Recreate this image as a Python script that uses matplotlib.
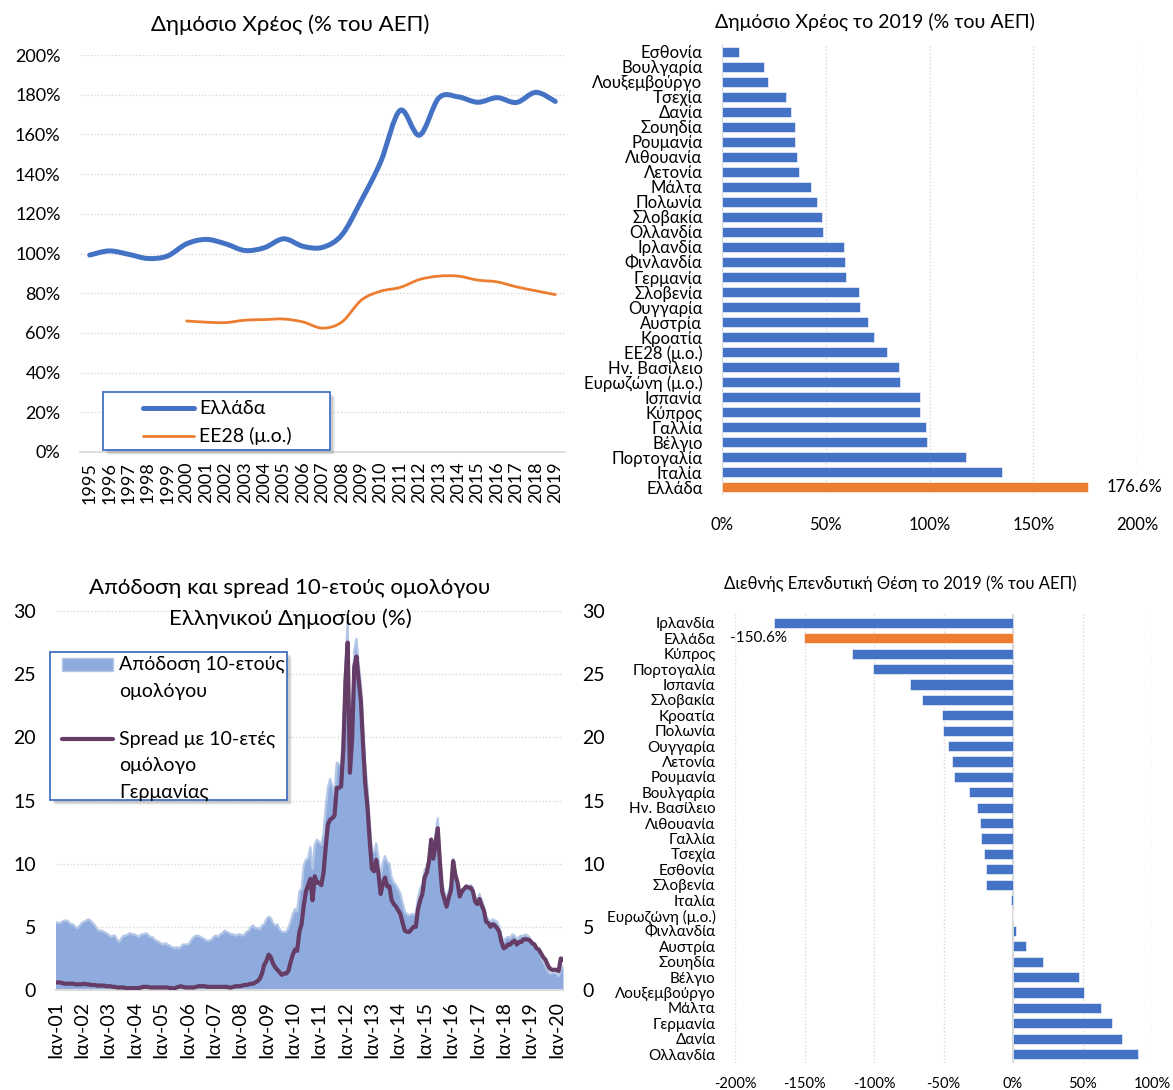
import numpy as np
import matplotlib
matplotlib.use("Agg")
import matplotlib.pyplot as plt
from matplotlib.path import Path
from matplotlib.patches import PathPatch, Rectangle
from matplotlib.lines import Line2D
from matplotlib.ticker import FuncFormatter

plt.rcParams['font.family'] = ['Lato', 'DejaVu Sans']

W, H = 1173, 1090
BLUE = "#4472C4"
ORANGE = "#ED7D31"
GRID = "#D9D9D9"
AREA = "#8FAADC"
AREA_EDGE = "#B4C7E7"
PURPLE = "#643C66"

# ---- top-left: public debt, % of GDP
years = list(range(1995, 2020))
debt_greece = [99.2, 101.3, 99.6, 97.5, 98.7, 104.9, 107.1, 104.9, 101.5, 102.9,
               107.4, 103.6, 103.1, 109.4, 126.7, 146.2, 172.1, 159.6, 178.4, 178.9,
               176.2, 178.5, 176.1, 181.2, 176.6]
ee28_years = list(range(2000, 2020))
debt_ee28 = [66.0, 65.4, 65.2, 66.4, 66.7, 67.0, 65.5, 62.4, 65.5, 76.5,
             81.0, 82.9, 86.9, 88.6, 88.6, 86.6, 85.7, 83.2, 81.2, 79.3]

# ---- top-right: public debt 2019
debt_countries = ['Εσθονία', 'Βουλγαρία', 'Λουξεμβούργο', 'Τσεχία', 'Δανία', 'Σουηδία',
                  'Ρουμανία', 'Λιθουανία', 'Λετονία', 'Μάλτα', 'Πολωνία', 'Σλοβακία',
                  'Ολλανδία', 'Ιρλανδία', 'Φινλανδία', 'Γερμανία', 'Σλοβενία', 'Ουγγαρία',
                  'Αυστρία', 'Κροατία', 'ΕΕ28 (μ.ο.)', 'Ην. Βασίλειο', 'Ευρωζώνη (μ.ο.)',
                  'Ισπανία', 'Κύπρος', 'Γαλλία', 'Βέλγιο', 'Πορτογαλία', 'Ιταλία', 'Ελλάδα']
debt_2019 = [8.4, 20.4, 22.1, 30.8, 33.2, 35.1, 35.2, 36.3, 36.9, 43.1, 46.0, 48.0,
             48.6, 58.8, 59.4, 59.6, 66.1, 66.3, 70.4, 73.2, 79.3, 85.4, 86.0,
             95.5, 95.5, 98.1, 98.6, 117.7, 134.8, 176.6]

# ---- bottom-left: 10y bond yield and spread vs Germany, monthly Jan-2001 .. Apr-2020
yield_10y = [
    5.4, 5.3, 5.3, 5.4, 5.5, 5.5, 5.4, 5.2, 5.2, 5.0, 4.9, 5.1,   # 2001
    5.3, 5.4, 5.5, 5.6, 5.5, 5.3, 5.1, 4.8, 4.7, 4.7, 4.6, 4.5,   # 2002
    4.4, 4.2, 4.3, 4.3, 4.0, 3.8, 4.1, 4.3, 4.3, 4.4, 4.5, 4.4,   # 2003
    4.4, 4.3, 4.2, 4.4, 4.4, 4.5, 4.4, 4.2, 4.2, 4.0, 3.9, 3.8,   # 2004
    3.7, 3.6, 3.7, 3.6, 3.5, 3.4, 3.3, 3.4, 3.3, 3.4, 3.6, 3.6,   # 2005
    3.6, 3.7, 4.0, 4.2, 4.3, 4.3, 4.2, 4.1, 4.0, 3.9, 3.9, 4.0,   # 2006
    4.2, 4.3, 4.2, 4.4, 4.5, 4.7, 4.6, 4.5, 4.4, 4.4, 4.3, 4.4,   # 2007
    4.4, 4.3, 4.4, 4.6, 4.7, 5.0, 5.1, 4.9, 4.9, 4.8, 5.1, 5.2,   # 2008
    5.6, 5.8, 5.7, 5.3, 5.1, 5.2, 4.8, 4.6, 4.6, 4.6, 4.9, 5.4,   # 2009
    6.0, 6.4, 6.2, 7.8, 8.0, 9.9, 10.3, 10.4, 11.3, 9.6, 11.5, 11.9,   # 2010
    11.7, 11.5, 12.4, 14.5, 16.0, 16.7, 16.2, 15.4, 18.0, 17.9, 17.8, 21.0,   # 2011
    26.0, 29.2, 19.1, 21.5, 26.9, 27.8, 25.8, 24.3, 20.9, 17.9, 16.0, 13.3,   # 2012
    11.1, 10.9, 11.6, 10.5, 8.9, 10.1, 10.6, 10.1, 10.0, 8.9, 8.5, 8.3,   # 2013
    8.0, 7.6, 6.9, 6.2, 6.0, 5.9, 6.0, 6.0, 6.0, 7.3, 8.0, 8.4,   # 2014
    9.5, 9.7, 10.5, 12.0, 11.0, 12.4, 13.6, 10.8, 8.5, 7.8, 7.2, 7.9,   # 2015
    8.4, 10.4, 9.3, 8.6, 7.5, 8.0, 8.0, 8.1, 8.2, 8.3, 8.1, 7.3,   # 2016
    7.2, 7.6, 7.1, 6.6, 5.8, 5.6, 5.3, 5.6, 5.5, 5.4, 5.0, 4.2,   # 2017
    3.8, 4.1, 4.2, 4.1, 4.4, 4.3, 4.0, 4.2, 4.3, 4.3, 4.4, 4.3,   # 2018
    4.1, 3.8, 3.7, 3.3, 3.2, 2.6, 2.2, 1.9, 1.5, 1.3, 1.3, 1.4,   # 2019
    1.3, 1.1, 1.6, 1.9,   # 2020
]
spread_10y = [
    0.60, 0.60, 0.60, 0.55, 0.50, 0.50, 0.50, 0.50, 0.50, 0.45, 0.45, 0.45,   # 2001
    0.45, 0.50, 0.45, 0.45, 0.40, 0.40, 0.40, 0.35, 0.35, 0.35, 0.35, 0.30,   # 2002
    0.30, 0.30, 0.25, 0.25, 0.20, 0.20, 0.20, 0.20, 0.15, 0.15, 0.15, 0.15,   # 2003
    0.15, 0.15, 0.15, 0.20, 0.25, 0.25, 0.25, 0.20, 0.20, 0.20, 0.20, 0.20,   # 2004
    0.20, 0.20, 0.20, 0.20, 0.15, 0.15, 0.10, 0.20, 0.25, 0.30, 0.25, 0.20,   # 2005
    0.20, 0.20, 0.20, 0.20, 0.25, 0.30, 0.30, 0.30, 0.30, 0.25, 0.25, 0.25,   # 2006
    0.25, 0.25, 0.25, 0.25, 0.25, 0.25, 0.25, 0.20, 0.20, 0.25, 0.30, 0.30,   # 2007
    0.30, 0.35, 0.40, 0.40, 0.45, 0.50, 0.50, 0.60, 0.70, 0.90, 1.30, 2.00,   # 2008
    2.30, 2.80, 2.60, 2.10, 1.80, 1.60, 1.40, 1.20, 1.30, 1.30, 1.50, 2.20,   # 2009
    2.8, 3.2, 3.1, 4.6, 5.2, 6.7, 7.8, 8.3, 8.8, 7.1, 9.0, 8.5,   # 2010
    8.5, 8.3, 9.3, 11.3, 13.1, 13.5, 13.6, 13.8, 16.0, 16.0, 16.1, 19.0,   # 2011
    24.5, 27.5, 17.2, 19.8, 25.6, 26.4, 24.5, 22.9, 19.4, 16.3, 14.5, 11.9,   # 2012
    9.6, 9.4, 10.3, 9.2, 7.6, 8.4, 8.9, 8.2, 8.2, 7.1, 6.8, 6.6,   # 2013
    6.3, 6.0, 5.3, 4.7, 4.6, 4.6, 4.8, 5.0, 5.0, 6.4, 7.1, 7.6,   # 2014
    8.9, 9.3, 10.2, 11.9, 10.4, 11.6, 12.8, 10.0, 7.8, 7.2, 6.6, 7.3,   # 2015
    7.9, 10.2, 9.1, 8.5, 7.4, 7.8, 8.0, 8.2, 8.1, 8.1, 7.8, 7.0,   # 2016
    6.8, 7.2, 6.7, 6.3, 5.4, 5.3, 5.0, 5.2, 5.1, 4.9, 4.6, 3.8,   # 2017
    3.3, 3.4, 3.6, 3.6, 3.8, 3.9, 3.6, 3.8, 3.8, 4.0, 4.0, 4.0,   # 2018
    3.9, 3.7, 3.6, 3.3, 3.2, 2.9, 2.6, 2.4, 2.0, 1.7, 1.6, 1.6,   # 2019
    1.6, 1.5, 2.5, 2.4,   # 2020
]
month_labels = ['Ιαν-%02d' % y for y in range(1, 21)]

# ---- bottom-right: net international investment position 2019
niip_countries = ['Ιρλανδία', 'Ελλάδα', 'Κύπρος', 'Πορτογαλία', 'Ισπανία', 'Σλοβακία',
                  'Κροατία', 'Πολωνία', 'Ουγγαρία', 'Λετονία', 'Ρουμανία', 'Βουλγαρία',
                  'Ην. Βασίλειο', 'Λιθουανία', 'Γαλλία', 'Τσεχία', 'Εσθονία', 'Σλοβενία',
                  'Ιταλία', 'Ευρωζώνη (μ.ο.)', 'Φινλανδία', 'Αυστρία', 'Σουηδία', 'Βέλγιο',
                  'Λουξεμβούργο', 'Μάλτα', 'Γερμανία', 'Δανία', 'Ολλανδία']
niip_2019 = [-172.0, -150.6, -116.0, -100.5, -74.0, -65.8, -50.8, -50.3, -47.0, -44.0,
             -42.7, -31.5, -25.8, -23.6, -23.1, -20.7, -19.6, -19.3, -1.4, -0.3,
             1.9, 9.5, 21.5, 47.5, 51.4, 63.0, 71.5, 78.3, 89.7]


def rect(x0, x1, y_top, y_bot):
    return [x0 / W, 1 - y_bot / H, (x1 - x0) / W, (y_bot - y_top) / H]


def smooth_path(xs, ys):
    # Excel-like smoothed line: Catmull-Rom segments as cubic Bezier curves
    p = np.column_stack([xs, ys]).astype(float)
    verts = [p[0]]
    codes = [Path.MOVETO]
    for i in range(len(p) - 1):
        p0 = p[i - 1] if i > 0 else p[i]
        p3 = p[i + 2] if i + 2 < len(p) else p[i + 1]
        c1 = p[i] + (p[i + 1] - p0) / 6
        c2 = p[i + 1] - (p3 - p[i]) / 6
        verts += [c1, c2, p[i + 1]]
        codes += [Path.CURVE4] * 3
    return Path(verts, codes)


def legend_box(fig, x0, y0, x1, y1):
    for k, a in [(5, 0.10), (4, 0.15), (3, 0.2)]:
        fig.patches.append(Rectangle((x0 / W + k / W, 1 - (y1 + k) / H), (x1 - x0) / W, (y1 - y0) / H,
                                     transform=fig.transFigure, facecolor='#7F7F7F', alpha=a,
                                     edgecolor='none', zorder=5))
    fig.patches.append(Rectangle((x0 / W, 1 - y1 / H), (x1 - x0) / W, (y1 - y0) / H,
                                 transform=fig.transFigure, facecolor='white',
                                 edgecolor=BLUE, lw=1.3, zorder=6))


fig = plt.figure(figsize=(W / 100, H / 100), dpi=100)
pct = FuncFormatter(lambda v, _: '{:.0f}%'.format(v))

# ===== top-left
ax1 = fig.add_axes(rect(80, 565, 55, 452))
ax1.set_axisbelow(True)
ax1.add_patch(PathPatch(smooth_path(years, debt_greece), fill=False, color=BLUE, lw=3.6,
                        capstyle='round', joinstyle='round', zorder=3))
ax1.add_patch(PathPatch(smooth_path(ee28_years, debt_ee28), fill=False, color=ORANGE, lw=2.0,
                        capstyle='round', joinstyle='round', zorder=3))
ax1.set_xlim(1994.5, 2019.5)
ax1.set_ylim(0, 200)
ax1.set_yticks(range(0, 201, 20))
ax1.yaxis.set_major_formatter(pct)
ax1.set_xticks(years)
ax1.set_xticklabels([str(y) for y in years], rotation=90)
ax1.grid(axis='y', color=GRID, ls=(0, (1, 1.5)), lw=1)
for s in ['top', 'right', 'left']:
    ax1.spines[s].set_visible(False)
ax1.spines['bottom'].set_color(GRID)
ax1.spines['bottom'].set_linewidth(1.2)
ax1.tick_params(length=0, labelsize=13, colors='black')
ax1.tick_params(axis='y', pad=14)
ax1.tick_params(axis='x', pad=7)
fig.text(290 / W, 1 - 25 / H, 'Δημόσιο Χρέος (% του ΑΕΠ)', ha='center', va='center', fontsize=16)

legend_box(fig, 103, 392, 330, 450)
fig.add_artist(Line2D([143 / W, 194 / W], [1 - 408 / H, 1 - 408 / H], color=BLUE, lw=3.6,
                      solid_capstyle='round', zorder=7))
fig.add_artist(Line2D([143 / W, 194 / W], [1 - 436 / H, 1 - 436 / H], color=ORANGE, lw=2.0,
                      solid_capstyle='round', zorder=7))
fig.text(199 / W, 1 - 408 / H, 'Ελλάδα', ha='left', va='center', fontsize=14, zorder=7)
fig.text(199 / W, 1 - 436 / H, 'ΕΕ28 (μ.ο.)', ha='left', va='center', fontsize=14, zorder=7)

# ===== top-right
ax2 = fig.add_axes(rect(722, 1137, 44, 495))
ypos = np.arange(len(debt_countries))
colors2 = [ORANGE if c == 'Ελλάδα' else BLUE for c in debt_countries]
ax2.barh(ypos, debt_2019, height=0.66, color=colors2, edgecolor='white', lw=0.4, zorder=3)
ax2.set_ylim(len(debt_countries) - 0.47, -0.53)
ax2.set_xlim(0, 200)
ax2.set_xticks(range(0, 201, 50))
ax2.xaxis.set_major_formatter(pct)
ax2.set_yticks(ypos)
ax2.set_yticklabels(debt_countries)
ax2.grid(axis='x', color=GRID, ls=(0, (1, 1.5)), lw=1)
ax2.axvline(0, color=GRID, lw=1.5, zorder=2)
for s in ax2.spines.values():
    s.set_visible(False)
ax2.tick_params(length=0, colors='black')
ax2.tick_params(axis='y', labelsize=12, pad=14)
ax2.tick_params(axis='x', labelsize=12, pad=16)
gi = debt_countries.index('Ελλάδα')
ax2.annotate('{:.1f}%'.format(debt_2019[gi]), xy=(debt_2019[gi], gi), xytext=(13, 0),
             textcoords='offset points', ha='left', va='center', fontsize=12)
fig.text(875 / W, 1 - 22 / H, 'Δημόσιο Χρέος το 2019 (% του ΑΕΠ)', ha='center', va='center',
         fontsize=14)

# ===== bottom-left
ax3 = fig.add_axes(rect(55.5, 563, 611, 990))
xm = np.arange(len(yield_10y))
ax3.fill_between(xm, yield_10y, 0, color=AREA, lw=0, zorder=2)
ax3.plot(xm, yield_10y, color=AREA_EDGE, lw=1.6, zorder=2)
ax3.set_xlim(0, len(yield_10y) - 1)
ax3.set_ylim(0, 30)
ax3.set_yticks(range(0, 31, 5))
ax3.set_xticks(np.arange(0, len(yield_10y), 12))
ax3.set_xticklabels(month_labels, rotation=90)
ax3.grid(axis='y', color=GRID, ls=(0, (1, 1.5)), lw=1)
for s in ['top', 'right', 'left']:
    ax3.spines[s].set_visible(False)
ax3.spines['bottom'].set_color(GRID)
ax3.spines['bottom'].set_linewidth(1.5)
ax3.tick_params(length=0, labelsize=14, colors='black')
ax3.tick_params(axis='y', pad=14)
ax3.tick_params(axis='x', pad=8)

ax3r = ax3.twinx()
ax3r.plot(xm[:len(spread_10y)], spread_10y, color=PURPLE, lw=3.0, solid_joinstyle='round', zorder=3)
ax3r.set_ylim(0, 30)
ax3r.set_yticks(range(0, 31, 5))
for s in ax3r.spines.values():
    s.set_visible(False)
ax3r.tick_params(length=0, labelsize=14, colors='black', pad=14)

fig.text(290 / W, 1 - 588 / H, 'Απόδοση και spread 10-ετούς ομολόγου', ha='center', va='center',
         fontsize=16)
fig.text(290 / W, 1 - 619 / H, 'Ελληνικού Δημοσίου (%)', ha='center', va='center', fontsize=16)

legend_box(fig, 50, 652, 287, 800)
fig.patches.append(Rectangle((62 / W, 1 - 671 / H), 51 / W, 13 / H, transform=fig.transFigure,
                             facecolor=AREA, edgecolor=AREA_EDGE, lw=1, zorder=7))
fig.add_artist(Line2D([62 / W, 113 / W], [1 - 739 / H, 1 - 739 / H], color=PURPLE, lw=3.0,
                      solid_capstyle='round', zorder=7))
for txt, yy in [('Απόδοση 10-ετούς', 664), ('ομολόγου', 691), ('Spread με 10-ετές', 739),
                ('ομόλογο', 766), ('Γερμανίας', 792)]:
    fig.text(119 / W, 1 - yy / H, txt, ha='left', va='center', fontsize=14, zorder=7)

# ===== bottom-right
ax4 = fig.add_axes(rect(735, 1152, 614, 1063))
ypos4 = np.arange(len(niip_countries))
colors4 = [ORANGE if c == 'Ελλάδα' else BLUE for c in niip_countries]
ax4.barh(ypos4, niip_2019, height=0.66, color=colors4, edgecolor='white', lw=0.4, zorder=3)
ax4.set_ylim(len(niip_countries) - 0.42, -0.58)
ax4.set_xlim(-200, 100)
ax4.set_xticks(range(-200, 101, 50))
ax4.xaxis.set_major_formatter(pct)
ax4.set_yticks(ypos4)
ax4.set_yticklabels(niip_countries)
ax4.grid(axis='x', color=GRID, ls=(0, (1, 1.5)), lw=1)
ax4.axvline(0, color=GRID, lw=1.5, zorder=2)
for s in ax4.spines.values():
    s.set_visible(False)
ax4.tick_params(length=0, colors='black')
ax4.tick_params(axis='y', labelsize=11, pad=14)
ax4.tick_params(axis='x', labelsize=10.5, pad=10)
gi4 = niip_countries.index('Ελλάδα')
ax4.annotate('{:.1f}%'.format(niip_2019[gi4]), xy=(niip_2019[gi4], gi4), xytext=(-12, 0),
             textcoords='offset points', ha='right', va='center', fontsize=11)
fig.text(900 / W, 1 - 584 / H, 'Διεθνής Επενδυτική Θέση το 2019 (% του ΑΕΠ)', ha='center',
         va='center', fontsize=12)

fig.savefig('out.png', dpi=100)
